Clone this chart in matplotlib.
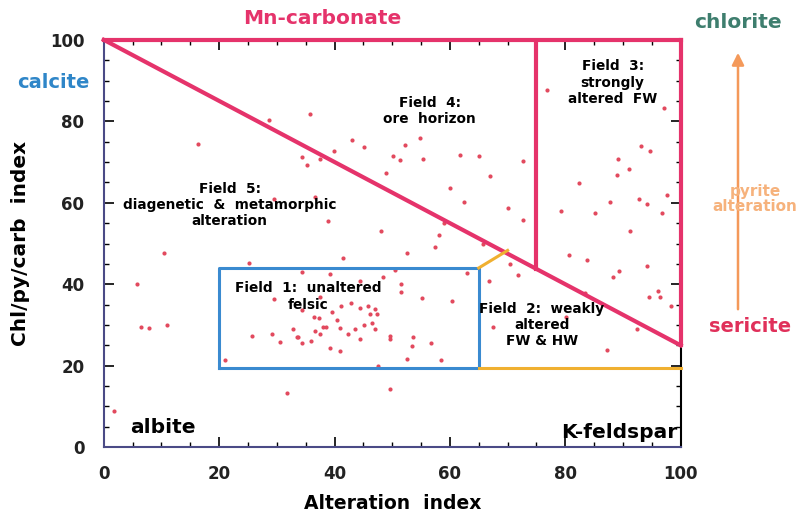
import matplotlib.pyplot as plt
from matplotlib.ticker import MultipleLocator

# sample points (alteration index, chl/py/carb index)
alt_index = [
    16.3, 28.7, 29.5, 35.8, 43.0, 45.1, 39.9, 34.4, 35.2, 37.4,
    54.9, 52.3, 50.1, 51.4, 55.3, 49.0, 61.8, 65.0, 66.9, 60.1,
    62.4, 36.7, 38.9, 48.0, 59.0, 58.1, 72.6, 70.0, 72.7, 76.8,
    97.1, 93.1, 94.7, 89.1, 91.0, 88.9, 82.4, 97.6, 92.8, 94.1,
    87.7, 79.3, 85.1, 96.7, 91.3, 10.5, 5.8, 6.4, 7.9, 10.9,
    1.7, 25.2, 29.5, 25.7, 29.1, 30.6, 32.8, 33.5, 21.0, 31.8,
    41.5, 52.5, 57.4, 34.4, 39.2, 48.4, 50.4, 62.9, 44.4, 51.6,
    51.5, 55.1, 60.3, 39.6, 41.2, 42.9, 44.4, 45.8, 47.0, 47.4,
    46.2, 36.4, 37.3, 40.5, 46.5, 45.1, 38.0, 40.9, 43.5, 47.0,
    36.6, 42.3, 37.4, 33.6, 49.6, 53.6, 49.7, 35.9, 34.3, 44.4,
    56.8, 53.4, 39.3, 40.9, 52.6, 58.5, 47.5, 49.7, 66.8, 70.5,
    71.8, 67.5, 80.1, 80.6, 83.8, 89.3, 88.2, 94.1, 94.5, 96.1,
    96.4, 98.3, 87.3, 92.5, 83.5, 65.7, 34.4, 37.4, 38.6,
]
chl_index = [
    74.4, 80.2, 60.9, 81.8, 75.3, 73.7, 72.7, 71.2, 69.3, 70.7,
    75.8, 74.3, 71.5, 70.4, 70.8, 67.4, 71.7, 71.5, 66.6, 63.6,
    60.3, 61.3, 55.6, 53.1, 55.0, 52.1, 70.3, 58.6, 55.8, 87.7,
    83.2, 74.0, 72.7, 70.7, 68.3, 66.8, 64.9, 61.9, 60.9, 59.7,
    60.2, 58.1, 57.5, 57.6, 53.1, 47.7, 40.0, 29.4, 29.2, 30.0,
    8.8, 45.1, 36.3, 27.2, 27.8, 25.9, 28.9, 27.1, 21.5, 13.4,
    46.4, 47.6, 49.2, 42.9, 42.4, 41.7, 43.5, 42.8, 40.9, 40.0,
    38.2, 36.7, 35.9, 33.3, 34.7, 35.3, 34.1, 34.6, 33.9, 32.7,
    32.7, 32.0, 31.6, 31.2, 30.4, 30.0, 29.4, 29.2, 28.9, 28.9,
    28.6, 27.9, 27.7, 27.1, 27.3, 27.0, 26.6, 26.1, 25.5, 26.5,
    25.5, 24.9, 24.3, 23.7, 21.7, 21.3, 19.9, 14.2, 40.8, 44.9,
    42.3, 29.4, 31.9, 47.2, 45.9, 43.2, 41.8, 44.5, 36.9, 38.4,
    36.9, 34.6, 23.8, 28.9, 37.8, 50.0, 33.7, 36.9, 29.4,
]

# field boundaries
diag_x = [0, 100]
diag_y = [100, 25]
field3_x = [75, 75]
field3_y = [100, 43.75]
box_x = [20, 65, 65, 20, 20]
box_y = [19.5, 19.5, 44, 44, 19.5]

ticks = [0, 20, 40, 60, 80, 100]

red = '#e5336b'
blue = '#3a8ad0'
orange = '#f0b030'
axis_col = '#4b4b86'

fig = plt.figure(figsize=(7.98, 5.17), dpi=100)
ax = fig.add_axes([0.130, 0.135, 0.723, 0.788])

ax.set_xlim(0, 100)
ax.set_ylim(0, 100)

ax.scatter(alt_index, chl_index, s=9, color='#e24a5e', zorder=3, linewidths=0)

# red lines: top, diagonal, field 3 and right edge
ax.plot([0, 100], [100, 100], color=red, lw=3, clip_on=False, zorder=4)
ax.plot(diag_x, diag_y, color=red, lw=3, clip_on=False, zorder=4)
ax.plot(field3_x, field3_y, color=red, lw=3, zorder=4)
ax.plot([100, 100], [25, 100], color=red, lw=3, clip_on=False, zorder=4)

ax.plot(box_x, box_y, color=blue, lw=2.2, zorder=4)
ax.plot([65, 70], [44, 48.3], color=orange, lw=2.2, zorder=4)
ax.plot([65, 100], [19.5, 19.5], color=orange, lw=2.2, clip_on=False, zorder=4)

# axes styling
ax.spines['top'].set_visible(False)
ax.spines['left'].set_color(axis_col)
ax.spines['bottom'].set_color(axis_col)
ax.spines['right'].set_color('black')
for s in ['left', 'bottom', 'right']:
    ax.spines[s].set_linewidth(1.5)

ax.set_xticks(ticks)
ax.set_yticks(ticks)
ax.xaxis.set_minor_locator(MultipleLocator(5))
ax.yaxis.set_minor_locator(MultipleLocator(5))
ax.tick_params(which='both', direction='in', top=True, right=True, color='black')
ax.tick_params(which='major', length=7, width=1.2, labelsize=12)
ax.tick_params(axis='x', which='major', pad=13)
ax.tick_params(axis='y', which='major', pad=14)
ax.tick_params(which='minor', length=3.5, width=1)
for lab in ax.get_xticklabels() + ax.get_yticklabels():
    lab.set_fontweight('bold')
    lab.set_color('#222222')

ax.set_xlabel('Alteration  index', fontsize=13.5, fontweight='bold', labelpad=8)
ax.set_ylabel('Chl/py/carb  index', fontsize=14.5, fontweight='bold', labelpad=14)

# field labels
fkw = dict(fontsize=9.8, fontweight='bold', ha='center', va='center',
           linespacing=1.2, zorder=5)
ax.text(21.8, 59.5, 'Field  5:\ndiagenetic  &  metamorphic\nalteration', **fkw)
ax.text(56.5, 82.6, 'Field  4:\nore  horizon', **fkw)
ax.text(88.2, 89.5, 'Field  3:\nstrongly\naltered  FW', **fkw)
ax.text(35.5, 37.0, 'Field  1:  unaltered\nfelsic', **fkw)
ax.text(75.9, 30.0, 'Field  2:  weakly\naltered\nFW & HW', **fkw)

# mineral end-members
ax.text(10.3, 4.8, 'albite', fontsize=14.5, fontweight='bold', ha='center', va='center')
ax.text(99.5, 3.5, 'K-feldspar', fontsize=14.5, fontweight='bold', ha='right', va='center')
fig.text(322 / 798, 1 - 18 / 517, 'Mn-carbonate', fontsize=14.5, fontweight='bold',
         color=red, ha='center', va='center')
fig.text(738 / 798, 1 - 22 / 517, 'chlorite', fontsize=14.5, fontweight='bold',
         color='#3e7e6e', ha='center', va='center')
fig.text(53 / 798, 1 - 83 / 517, 'calcite', fontsize=14, fontweight='bold',
         color='#2f86c8', ha='center', va='center')
fig.text(750 / 798, 1 - 326 / 517, 'sericite', fontsize=14, fontweight='bold',
         color='#e0305a', ha='center', va='center')
fig.text(755 / 798, 1 - 199 / 517, 'pyrite\nalteration', fontsize=11, fontweight='bold',
         color='#f6b27c', ha='center', va='center', linespacing=1.0)

# pyrite alteration arrow
fig.patches.append(plt.matplotlib.patches.FancyArrowPatch(
    (738 / 798, 1 - 312 / 517), (738 / 798, 1 - 50 / 517),
    transform=fig.transFigure, arrowstyle='-|>', mutation_scale=18,
    color='#f4995a', lw=1.8))

plt.savefig('out.png', dpi=100)
